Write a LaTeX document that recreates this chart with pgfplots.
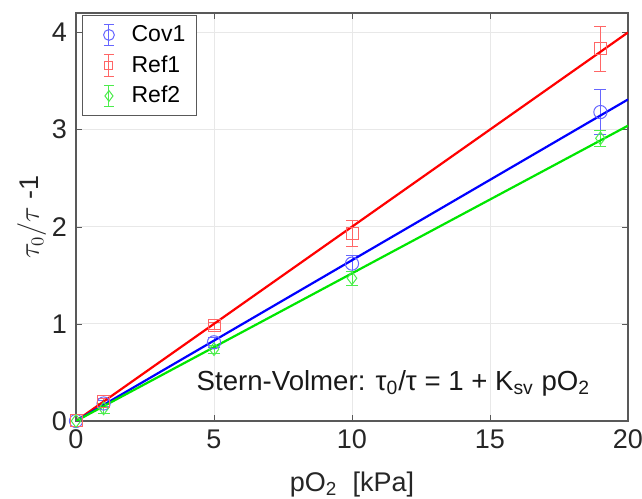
\documentclass[border=0pt]{standalone}
\usepackage{pgfplots}
\pgfplotsset{compat=1.18}
\usetikzlibrary{calc}
\usepackage{fontspec}
\setmainfont{Liberation Sans}
\definecolor{mblue}{RGB}{0,0,255}
\definecolor{mred}{RGB}{255,0,0}
\definecolor{mgreen}{RGB}{0,230,0}
\colorlet{lblue}{mblue!60}
\colorlet{lred}{mred!60}
\colorlet{lgreen}{mgreen!70}
\pgfplotsset{
  ebleg/.style={legend image code/.code={
    \path[draw=none,fill=none] (0cm,0cm) -- (0.68cm,0cm);
    \draw[#1] (0.37cm,-0.19cm) -- (0.37cm,0.19cm);
    \draw[#1] (0.28cm,-0.19cm) -- (0.46cm,-0.19cm);
    \draw[#1] (0.28cm,0.19cm) -- (0.46cm,0.19cm);
    \draw[#1] plot coordinates {(0.37cm,0cm)};
  }}
}
\begin{document}
\begin{tikzpicture}
\begin{axis}[
  scale only axis,
  width=276pt, height=204pt,
  xmin=0, xmax=20, ymin=0, ymax=4.2,
  xtick={0,5,10,15,20}, ytick={0,1,2,3,4},
  grid=major,
  major grid style={gray!18, line width=0.4pt},
  axis line style={gray!70!black, line width=0.6pt},
  tick style={gray!70!black},
  tick align=inside,
  major tick length=3pt,
  /pgf/number format/assume math mode=true,
  ticklabel style={font=\fontsize{13.5}{15}\selectfont, text=black!85},
  xticklabel style={yshift=-1pt},
  yticklabel style={xshift=-1pt},
  xlabel={pO\textsubscript{2}\ \ [kPa]},
  ylabel={$\tau_0/\tau$ -1},
  label style={font=\fontsize{13.5}{15}\selectfont, text=black!85},
  xlabel style={yshift=-4.5pt},
  ylabel style={yshift=-4pt},
  legend style={font=\fontsize{11.5}{13}\selectfont, draw=gray!70!black, fill=white,
    at={(0.01,0.995)}, anchor=north west, inner xsep=3pt, inner ysep=2.5pt, row sep=0.5pt,
    nodes={inner sep=2.5pt}},
  legend cell align=left,
  error bars/y dir=both, error bars/y explicit,
]
\addplot[only marks, mark=o, mark size=3.3pt, draw=lblue, mark options={draw=lblue, fill=none, line width=0.5pt},
  error bars/error bar style={lblue, line width=0.5pt},
  error bars/error mark options={rotate=90, mark size=3pt, draw=lblue},
  ebleg={draw=lblue, mark=o, mark size=2.7pt, line width=0.5pt}]
  coordinates {(0,0) +- (0,0.02) (1,0.18) +- (0,0.03) (5,0.81) +- (0,0.05) (10,1.62) +- (0,0.08) (19,3.18) +- (0,0.23)};
\addlegendentry{Cov1}
\addplot[only marks, mark=square, mark size=3pt, draw=lred, mark options={draw=lred, fill=none, line width=0.5pt},
  error bars/error bar style={lred, line width=0.5pt},
  error bars/error mark options={rotate=90, mark size=3pt, draw=lred},
  ebleg={draw=lred, mark=square, mark size=2pt, line width=0.5pt}]
  coordinates {(0,0) +- (0,0.02) (1,0.2) +- (0,0.03) (5,0.98) +- (0,0.04) (10,1.93) +- (0,0.13) (19,3.83) +- (0,0.23)};
\addlegendentry{Ref1}
\addplot[only marks, mark=diamond, mark size=3.2pt, draw=lgreen, mark options={draw=lgreen, fill=none, line width=0.5pt},
  error bars/error bar style={lgreen, line width=0.5pt},
  error bars/error mark options={rotate=90, mark size=3pt, draw=lgreen},
  ebleg={draw=lgreen, mark=diamond, mark size=2.7pt, line width=0.5pt}]
  coordinates {(0,0) +- (0,0.02) (1,0.13) +- (0,0.05) (5,0.74) +- (0,0.04) (10,1.47) +- (0,0.07) (19,2.91) +- (0,0.08)};
\addlegendentry{Ref2}
\addplot[mred, line width=1.1pt, forget plot] coordinates {(0,0.0) (20,4.0)};
\addplot[mblue, line width=1.1pt, forget plot] coordinates {(0,0.0) (20,3.31)};
\addplot[mgreen, line width=1.1pt, forget plot] coordinates {(0,0.0) (20,3.04)};
\node[font=\fontsize{13.8}{15}\selectfont, text=black!90] at (axis cs:11.5,0.39) {Stern-Volmer: τ\textsubscript{0}/τ = 1 + K\textsubscript{sv} pO\textsubscript{2}};
\coordinate (bl) at (rel axis cs:0,0);
\coordinate (tr) at (rel axis cs:1,1);
\end{axis}
\pgfresetboundingbox
\useasboundingbox ($(bl)+(-38pt,-39pt)$) rectangle ($(tr)+(7pt,6.5pt)$);
\end{tikzpicture}
\end{document}
